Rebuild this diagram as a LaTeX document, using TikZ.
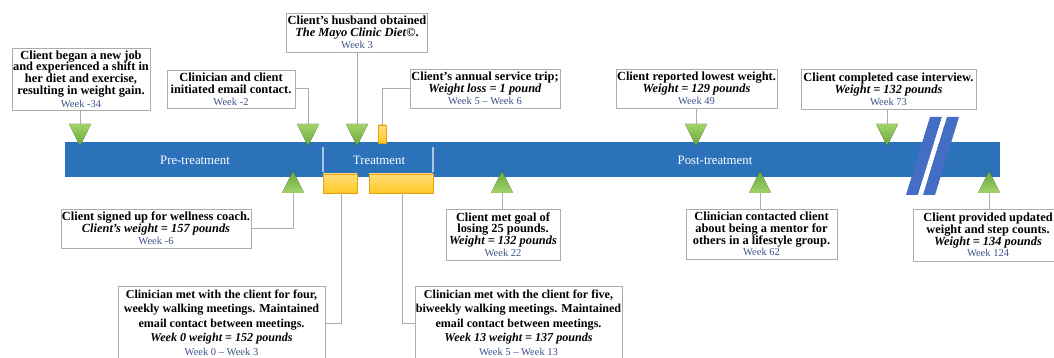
\documentclass[tikz,border=0pt]{standalone}
\usepackage{fontspec}
\setmainfont{Liberation Serif}
\usepackage{xcolor}
\usepackage{tikz}

\definecolor{barblue}{RGB}{44,114,186}
\definecolor{slashblue}{RGB}{68,110,196}
\definecolor{weekblue}{RGB}{62,82,140}
\definecolor{boxgray}{RGB}{172,172,172}
\definecolor{trigreen}{RGB}{104,166,62}
\definecolor{trilight}{RGB}{162,212,104}
\definecolor{sessyellow}{RGB}{255,200,36}
\definecolor{sessedge}{RGB}{228,160,20}

\newcommand{\wk}[1]{{\normalfont\fontsize{10.5}{12}\selectfont\color{weekblue}#1}}

\tikzset{
  evbox/.style={draw=boxgray, fill=white, line width=0.8pt, align=center, inner sep=1pt,
    font=\fontsize{12.4}{11.8}\selectfont\bfseries},
  longbox/.style={evbox, inner sep=0pt, font=\fontsize{12.1}{14.4}\selectfont\bfseries},
  conn/.style={draw=boxgray, line width=1pt},
  phase/.style={text=white, font=\fontsize{12.8}{14}\selectfont},
  dtri/.style={top color=trilight, bottom color=trigreen},
  utri/.style={top color=trigreen, bottom color=trilight},
  sessbar/.style={top color=sessyellow!60!white, bottom color=sessyellow, draw=sessedge, line width=0.4pt}
}

\begin{document}
\begin{tikzpicture}[x=1pt,y=-1pt]
\useasboundingbox (0,0) rectangle (1054,358);

% timeline bar
\fill[barblue] (65,142) rectangle (1000,177);
\draw[white!60!barblue, line width=1.2pt] (323,147) -- (323,172);
\draw[white!60!barblue, line width=1.2pt] (433,147) -- (433,172);
\node[phase] (pre) at (195,160) {Pre-treatment};
\node[phase] (trt) at (379,160) {Treatment};
\node[phase] (post) at (715,160) {Post-treatment};

% break mark
\fill[slashblue] (906,195) -- ++(12,0) -- ++(24,-78) -- ++(-12,0) -- cycle;
\fill[white] (918,195) -- ++(5,0) -- ++(24,-78) -- ++(-5,0) -- cycle;
\fill[slashblue] (923,195) -- ++(12,0) -- ++(24,-78) -- ++(-12,0) -- cycle;

% markers
\foreach \x in {80,308,357,696,887}
  \fill[dtri] (\x,146) -- ++(-11,-22) -- ++(22,0) -- cycle;
\foreach \x in {293,502,760,989}
  \fill[utri] (\x,171) -- ++(-11,22) -- ++(22,0) -- cycle;
\draw[sessbar] (378,125) rectangle (386,143);
\draw[sessbar] (323,174) rectangle (357,193);
\draw[sessbar] (369,174) rectangle (433,193);

\coordinate (d1) at (80,124);
\coordinate (d2) at (308,124);
\coordinate (d3) at (357,124);
\coordinate (s1) at (382,125);
\coordinate (d4) at (696,124);
\coordinate (d5) at (887,124);
\coordinate (u1) at (293,193);
\coordinate (s2) at (341,193);
\coordinate (u2) at (502,193);
\coordinate (s3) at (402,193);
\coordinate (u3) at (760,193);
\coordinate (u4) at (989,193);

% events above
\node[evbox, minimum width=138, minimum height=62] (b1) at (81,79)
  {Client began a new job\\ and experienced a shift in\\ her diet and exercise,\\ resulting in weight gain.\\[1pt] \wk{Week -34}};
\node[evbox, minimum width=128, minimum height=38] (b2) at (231,89)
  {Clinician and client\\ initiated email contact.\\ \wk{Week -2}};
\node[evbox, minimum width=140, minimum height=39] (b3) at (357,32.5)
  {Client’s husband obtained\\ \textit{The Mayo Clinic Diet}©.\\ \wk{Week 3}};
\node[evbox, minimum width=150, minimum height=39] (b4) at (485,88.5)
  {Client’s annual service trip;\\ \textit{Weight loss = 1 pound}\\ \wk{Week 5 -- Week 6}};
\node[evbox, minimum width=157, minimum height=39] (b5) at (696.5,88.5)
  {Client reported lowest weight.\\ \textit{Weight = 129 pounds}\\ \wk{Week 49}};
\node[evbox, minimum width=175, minimum height=40] (b6) at (888.5,89)
  {Client completed case interview.\\ \textit{Weight = 132 pounds}\\ \wk{Week 73}};

% events below
\node[evbox, minimum width=186, minimum height=39] (b7) at (156,228.5)
  {Client signed up for wellness coach.\\ \textit{Client's weight = 157 pounds}\\ \wk{Week -6}};
\node[longbox, minimum width=207, minimum height=73, anchor=north] (b8) at (221.5,286)
  {Clinician met with the client for four,\\ weekly walking meetings. Maintained\\ email contact between meetings.\\ \textit{Week 0 weight = 152 pounds}\\ \wk{Week 0 -- Week 3}};
\node[evbox, minimum width=114, minimum height=51] (b9) at (503,234.5)
  {Client met goal of\\ losing 25 pounds.\\ \textit{Weight = 132 pounds}\\ \wk{Week 22}};
\node[longbox, minimum width=207, minimum height=73, anchor=north] (b10) at (518.5,286)
  {Clinician met with the client for five,\\ biweekly walking meetings. Maintained\\ email contact between meetings.\\ \textit{Week 13 weight = 137 pounds}\\ \wk{Week 5 -- Week 13}};
\node[evbox, minimum width=151, minimum height=50] (b11) at (761.5,234)
  {Clinician contacted client\\ about being a mentor for\\ others in a lifestyle group.\\ \wk{Week 62}};
\node[evbox, minimum width=150, minimum height=52] (b12) at (988,235)
  {Client provided updated\\ weight and step counts.\\ \textit{Weight = 134 pounds}\\ \wk{Week 124}};

% connectors
\draw[conn] (d1 |- b1.south) -- (d1);
\draw[conn] (b2.east) -| (d2);
\draw[conn] (d3 |- b3.south) -- (d3);
\draw[conn] (b4.west) -| (s1);
\draw[conn] (d4 |- b5.south) -- (d4);
\draw[conn] (d5 |- b6.south) -- (d5);
\draw[conn] (b7.east) -| (u1);
\draw[conn] (b8.east |- 0,323) -| (s2);
\draw[conn] (u2 |- b9.north) -- (u2);
\draw[conn] (b10.west |- 0,323) -| (s3);
\draw[conn] (u3 |- b11.north) -- (u3);
\draw[conn] (u4 |- b12.north) -- (u4);
\end{tikzpicture}
\end{document}
